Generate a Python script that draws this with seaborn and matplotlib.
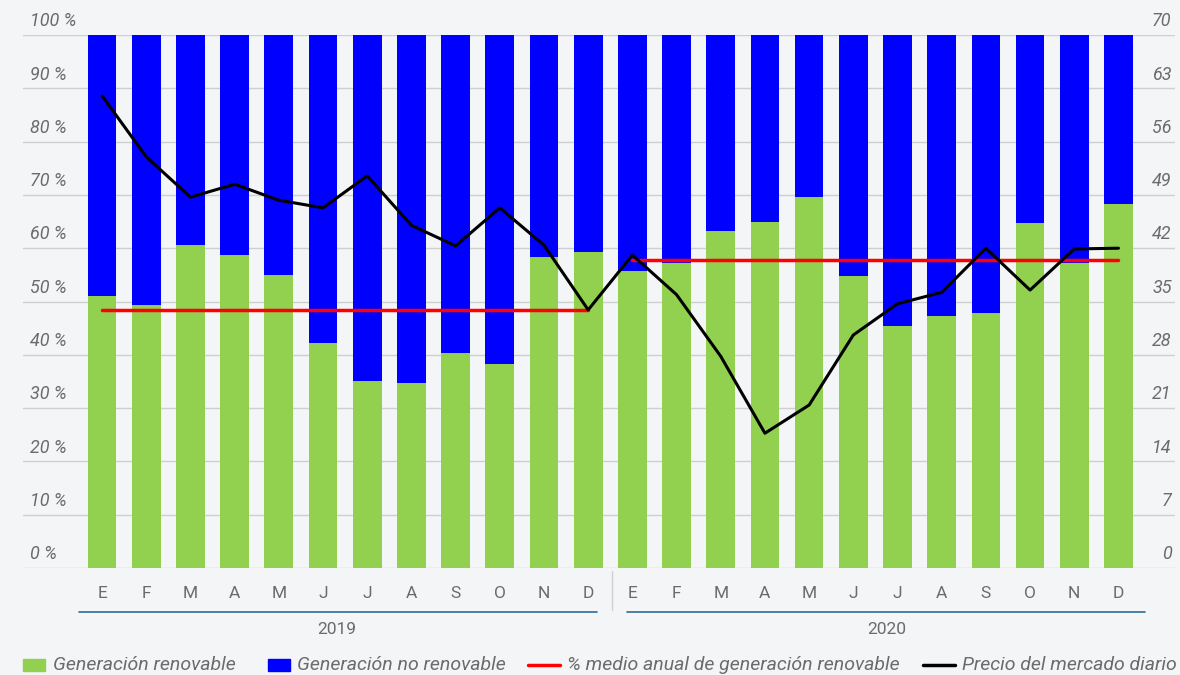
import numpy as np
import pandas as pd
import matplotlib
matplotlib.use("Agg")
import matplotlib.pyplot as plt
import matplotlib.transforms as mtransforms
from matplotlib.patches import Rectangle
from matplotlib.lines import Line2D
import seaborn as sns

# data
months = ["E", "F", "M", "A", "M", "J", "J", "A", "S", "O", "N", "D"]
years = ["2019", "2020"]
renovable = [51.0, 49.3, 60.6, 58.7, 55.0, 42.2, 35.1, 34.7, 40.3, 38.3, 58.3, 59.3,
             55.7, 57.2, 63.2, 64.9, 69.6, 54.8, 45.4, 47.3, 47.8, 64.7, 57.2, 68.3]
precio = [62.0, 54.0, 48.7, 50.4, 48.3, 47.3, 51.5, 45.0, 42.3, 47.3, 42.4, 33.9,
          41.1, 35.9, 27.8, 17.7, 21.4, 30.6, 34.7, 36.2, 42.0, 36.5, 41.9, 42.0]
medio_anual = [48.4, 57.8]
pct_ticks = list(range(0, 101, 10))
precio_ticks = list(range(0, 71, 7))
legend_labels = ["Generación renovable", "Generación no renovable",
                 "% medio anual de generación renovable", "Precio del mercado diario"]

GREEN = "#92d050"
BLUE = "#0000ff"
RED = "#ff0000"
BG = "#f4f5f7"
GREY = "#6b6b6b"
W, H = 1180, 675

df = pd.DataFrame({
    "mes": [f"{y}-{i:02d}" for y in years for i in range(12)],
    "renovable": renovable,
    "total": [100] * 24,
    "precio": precio,
    "pos": np.arange(24),
})

sns.set_theme(style="white")
plt.rcParams["font.family"] = ["Roboto", "DejaVu Sans"]

fig = plt.figure(figsize=(11.8, 6.75), dpi=100, facecolor=BG)
ax = fig.add_axes([23 / W, 107 / H, 1152 / W, 533 / H])
ax.set_facecolor(BG)

# stacked bars: blue full height behind, green on top
sns.barplot(data=df, x="mes", y="total", color=BLUE, width=0.65, saturation=1, ax=ax,
            order=df["mes"])
sns.barplot(data=df, x="mes", y="renovable", color=GREEN, width=0.65, saturation=1, ax=ax,
            order=df["mes"])
for p in ax.patches:
    p.set_edgecolor("none")

ax.set_ylim(0, 100)
ax.set_xlim(-1.79, 24.28)
ax.set_yticks(pct_ticks)
ax.set_yticklabels([])
ax.set_xticks([])
ax.set_xlabel("")
ax.set_ylabel("")
ax.grid(axis="y", color="#cfcfcf", lw=1)
ax.set_axisbelow(True)
for s in ax.spines.values():
    s.set_visible(False)
ax.tick_params(length=0)

# annual average lines
for k, val in enumerate(medio_anual):
    ax.plot([12 * k, 12 * k + 11], [val, val], color=RED, lw=2.5, zorder=5)

# price line on secondary axis
ax2 = ax.twinx()
sns.lineplot(data=df, x="pos", y="precio", color="black", lw=2.2, ax=ax2, zorder=6)
ax2.set_ylim(0, 70)
ax2.set_xlim(-1.79, 24.28)
ax2.set_yticks([])
ax2.set_xticks([])
ax2.set_xlabel("")
ax2.set_ylabel("")
for s in ax2.spines.values():
    s.set_visible(False)

# axis labels placed above the grid lines
for t in pct_ticks:
    ax.text(0.006, t + 0.9, f"{t} %", transform=mtransforms.blended_transform_factory(ax.transAxes, ax.transData),
            ha="left", va="bottom", fontsize=13, style="italic", color=GREY)
for t in precio_ticks:
    ax2.text(0.997, t + 0.63, f"{t}", transform=mtransforms.blended_transform_factory(ax2.transAxes, ax2.transData),
             ha="right", va="bottom", fontsize=13, style="italic", color=GREY)

# month and year labels
trans = mtransforms.blended_transform_factory(ax.transData, fig.transFigure)
for i in range(24):
    ax.text(i, 1 - 593 / H, months[i % 12], transform=trans, ha="center", va="center",
            fontsize=12.5, color=GREY)
year_lines = [(-0.52, 11.2), (11.88, 23.6)]
year_pos = [5.32, 17.76]
for (x0, x1), xp, y in zip(year_lines, year_pos, years):
    ax.plot([x0, x1], [1 - 612 / H] * 2, transform=trans, color="#2e6b96", lw=1.2, clip_on=False)
    ax.text(xp, 1 - 630 / H, y, transform=trans, ha="center", va="center",
            fontsize=12.5, color=GREY)
ax.plot([11.54, 11.54], [1 - 571 / H, 1 - 610 / H], transform=trans, color="#cfcfcf", lw=1,
        clip_on=False)

# legend drawn by hand to keep the reference spacing
ly = 1 - 665 / H
fig.patches.append(Rectangle((23 / W, ly - 6 / H), 22 / W, 12 / H, color=GREEN, transform=fig.transFigure))
fig.patches.append(Rectangle((268 / W, ly - 6 / H), 22 / W, 12 / H, color=BLUE, transform=fig.transFigure))
fig.add_artist(Line2D([528 / W, 560 / W], [ly, ly], color=RED, lw=2.5, transform=fig.transFigure))
fig.add_artist(Line2D([923 / W, 955 / W], [ly, ly], color="black", lw=2.5, transform=fig.transFigure))
for xl, lab in zip([53, 297, 567, 962], legend_labels):
    fig.text(xl / W, ly, lab, ha="left", va="center", fontsize=14, style="italic", color=GREY)

fig.savefig("out.png", dpi=100, facecolor=BG)
